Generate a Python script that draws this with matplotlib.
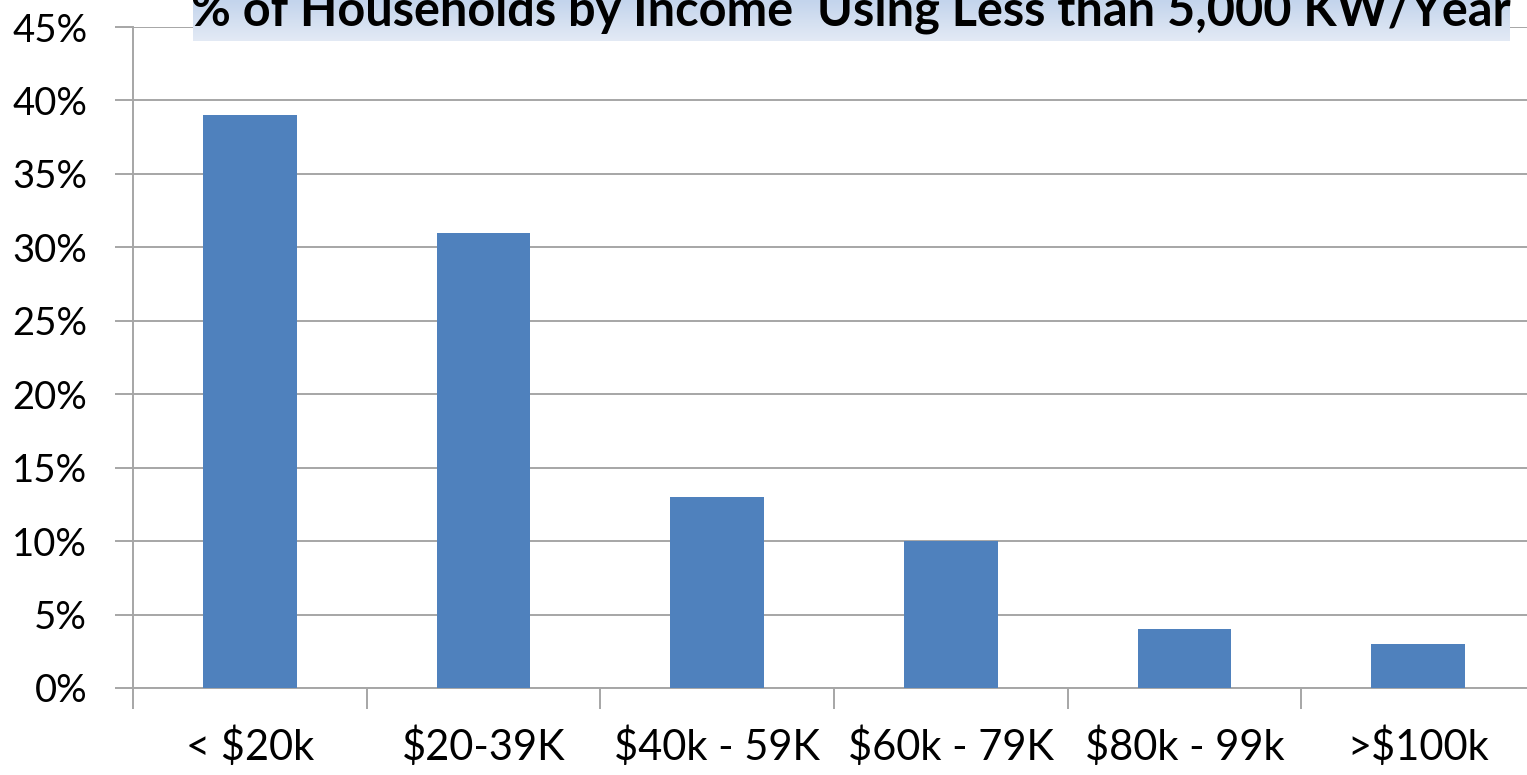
import matplotlib
matplotlib.use("Agg")
import matplotlib.pyplot as plt
import numpy as np
from matplotlib.colors import LinearSegmentedColormap

categories = ["< $20k", "$20-39K", "$40k - 59K", "$60k - 79K", "$80k - 99k", ">$100k"]
values = [39, 31, 13, 10, 4, 3]
yticks = [0, 5, 10, 15, 20, 25, 30, 35, 40, 45]
title = "% of Households by Income  Using Less than 5,000 KW/Year"

W, H = 1527, 775
fig = plt.figure(figsize=(W / 100, H / 100), dpi=100)
plt.rcParams['font.family'] = ['Lato', 'DejaVu Sans']

left, right, top, bottom = 133, 1535, 27, 688
ax = fig.add_axes([left / W, 1 - bottom / H, (right - left) / W, (bottom - top) / H])

x = np.arange(len(categories))
ax.bar(x, values, width=0.4, color="#4f81bd", zorder=3)
ax.set_xlim(-0.5, len(categories) - 0.5)
ax.set_ylim(0, 45)
ax.set_yticks(yticks)
ax.set_yticklabels([f"{v}%" for v in yticks], fontsize=27.5)
ax.yaxis.grid(True, color="#a6a6a6", linewidth=1.4, zorder=0)
ax.tick_params(axis='y', length=13, width=1.4, color="#a6a6a6", pad=20)

# category labels at centers, ticks at boundaries
ax.set_xticks(np.arange(len(categories) + 1) - 0.5)
ax.set_xticklabels([])
ax.tick_params(axis='x', length=15, width=1.4, color="#a6a6a6")
ax.set_xticks(x, minor=True)
ax.set_xticklabels(categories, minor=True, fontsize=30)
ax.tick_params(axis='x', which='minor', length=0, pad=28)

for s in ["top", "right"]:
    ax.spines[s].set_visible(False)
ax.spines["left"].set_color("#a6a6a6")
ax.spines["left"].set_linewidth(1.4)
ax.spines["bottom"].set_color("#a6a6a6")
ax.spines["bottom"].set_linewidth(1.4)

# title box
grad = np.linspace(0, 1, 50).reshape(-1, 1)
tax = fig.add_axes([193 / W, 1 - 41 / H, (1510 - 193) / W, 41 / H])
cmap = LinearSegmentedColormap.from_list("g", ["#c3d4ec", "#e3eaf5"])
tax.imshow(grad, aspect="auto", cmap=cmap, extent=[0, 1, 0, 1])
tax.axis("off")
fig.text(851 / W, 1 - 25 / H, title, ha="center", va="baseline", fontsize=35,
         fontweight="bold", color="black")

fig.savefig("out.png", dpi=100)
